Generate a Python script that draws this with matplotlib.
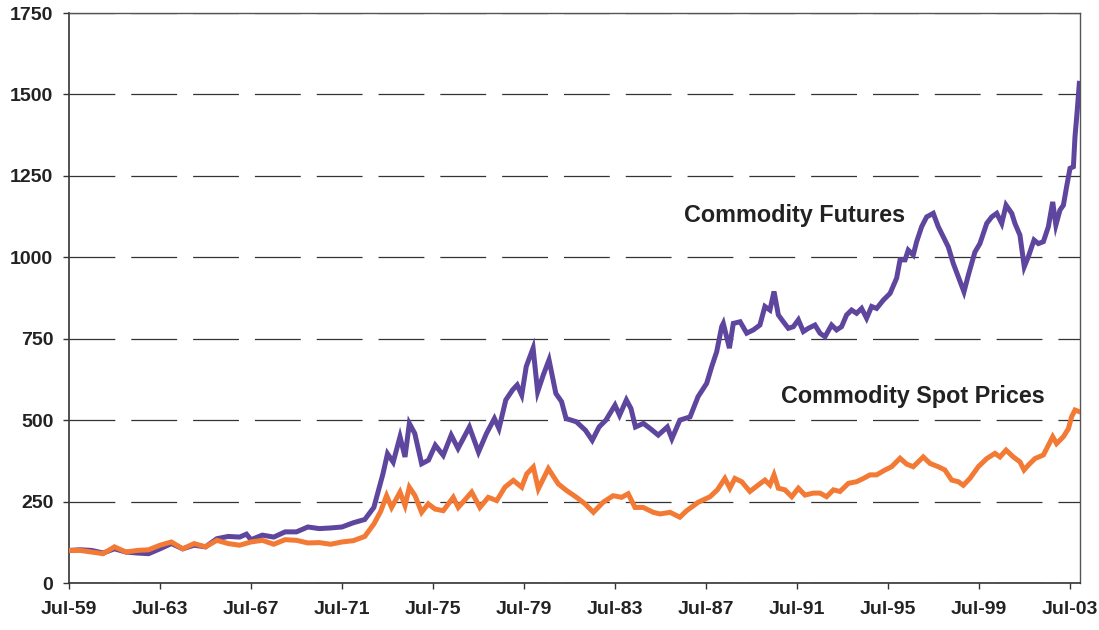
import matplotlib
matplotlib.use("Agg")
import matplotlib.pyplot as plt

plt.rcParams['font.family'] = ['Liberation Sans', 'DejaVu Sans']
plt.rcParams['lines.scale_dashes'] = False

# Commodity Futures (time in fractional years, index value)
fut_t = [1959.5, 1960.0, 1960.5, 1961.0, 1961.5, 1962.0, 1962.5, 1963.0, 1963.5, 1964.0,
         1964.5, 1965.0, 1965.5, 1966.0, 1966.5, 1967.0, 1967.3, 1967.5, 1968.0, 1968.5,
         1969.0, 1969.5, 1970.0, 1970.5, 1971.0, 1971.5, 1972.0, 1972.5, 1972.9, 1973.3,
         1973.5, 1973.75, 1974.05, 1974.27, 1974.46, 1974.7, 1975.0, 1975.3, 1975.6, 1975.95,
         1976.3, 1976.6, 1977.1, 1977.5, 1977.85, 1978.2, 1978.4, 1978.7, 1979.0, 1979.2,
         1979.4, 1979.6, 1979.9, 1980.1, 1980.35, 1980.6, 1980.9, 1981.15, 1981.35, 1981.8,
         1982.2, 1982.5, 1982.8, 1983.1, 1983.5, 1983.7, 1984.0, 1984.2, 1984.4, 1984.75,
         1985.05, 1985.4, 1985.8, 1986.0, 1986.35, 1986.8, 1987.15, 1987.53, 1987.75, 1987.97,
         1988.19, 1988.26, 1988.53, 1988.7, 1989.0, 1989.29, 1989.58, 1989.87, 1990.09, 1990.31,
         1990.49, 1990.68, 1990.9, 1991.12, 1991.34, 1991.56, 1991.78, 1992.0, 1992.29, 1992.51,
         1992.73, 1993.02, 1993.24, 1993.46, 1993.68, 1993.9, 1994.12, 1994.34, 1994.56, 1994.78,
         1995.0, 1995.3, 1995.59, 1995.88, 1996.03, 1996.25, 1996.39, 1996.61, 1996.76, 1996.98,
         1997.2, 1997.49, 1997.71, 1997.93, 1998.15, 1998.37, 1998.59, 1998.84, 1999.03, 1999.32,
         1999.54, 1999.84, 2000.06, 2000.28, 2000.5, 2000.69, 2000.94, 2001.08, 2001.3, 2001.49,
         2001.67, 2001.92, 2002.11, 2002.33, 2002.55, 2002.74, 2002.88, 2003.06, 2003.21, 2003.35,
         2003.5, 2003.65, 2003.72, 2003.82, 2003.91]
fut_v = [100, 102, 100, 92, 105, 95, 92, 90, 105, 121,
         105, 116, 111, 136, 143, 141, 150, 133, 147, 141,
         157, 157, 172, 167, 169, 172, 185, 195, 232, 335,
         397, 371, 449, 387, 490, 459, 366, 377, 423, 392,
         454, 413, 479, 402, 459, 505, 474, 562, 593, 608,
         577, 665, 721, 587, 639, 685, 582, 557, 505, 495,
         469, 438, 479, 500, 546, 515, 562, 536, 479, 490,
         474, 454, 479, 443, 500, 510, 572, 613, 664, 710,
         787, 797, 721, 797, 802, 767, 777, 792, 849, 838,
         895, 823, 802, 782, 787, 808, 772, 782, 792, 767,
         756, 792, 777, 787, 823, 838, 828, 843, 813, 849,
         843, 869, 889, 936, 992, 992, 1022, 1007, 1048, 1094,
         1124, 1135, 1094, 1063, 1032, 981, 940, 894, 945, 1016,
         1042, 1104, 1124, 1135, 1104, 1160, 1135, 1104, 1068, 971,
         1002, 1053, 1042, 1048, 1094, 1170, 1099, 1145, 1160, 1216,
         1273, 1278, 1370, 1452, 1534]

# Commodity Spot Prices
spot_t = [1959.5, 1960.0, 1960.5, 1961.0, 1961.5, 1962.0, 1962.5, 1963.0, 1963.5, 1964.0,
          1964.5, 1965.0, 1965.5, 1966.0, 1966.5, 1967.0, 1967.5, 1968.0, 1968.5, 1969.0,
          1969.5, 1970.0, 1970.5, 1971.0, 1971.5, 1972.0, 1972.5, 1972.9, 1973.2, 1973.46,
          1973.68, 1974.05, 1974.27, 1974.46, 1974.71, 1975.0, 1975.29, 1975.59, 1975.95, 1976.39,
          1976.61, 1977.2, 1977.56, 1977.93, 1978.3, 1978.66, 1979.03, 1979.4, 1979.62, 1979.91,
          1980.13, 1980.57, 1981.01, 1981.37, 1981.81, 1982.18, 1982.55, 1982.98, 1983.42, 1983.79,
          1984.08, 1984.38, 1984.74, 1985.18, 1985.48, 1985.92, 1986.35, 1986.65, 1987.16, 1987.68,
          1988.0, 1988.33, 1988.55, 1988.77, 1989.07, 1989.43, 1989.8, 1990.09, 1990.31, 1990.49,
          1990.68, 1990.97, 1991.27, 1991.56, 1991.85, 1992.22, 1992.51, 1992.8, 1993.1, 1993.39,
          1993.76, 1994.12, 1994.42, 1994.71, 1995.0, 1995.37, 1995.66, 1996.03, 1996.32, 1996.61,
          1997.05, 1997.35, 1997.71, 1998.0, 1998.3, 1998.59, 1998.81, 1999.1, 1999.47, 1999.84,
          2000.2, 2000.42, 2000.69, 2001.01, 2001.3, 2001.48, 2001.67, 2001.96, 2002.33, 2002.55,
          2002.74, 2002.91, 2003.21, 2003.43, 2003.57, 2003.72, 2003.91]
spot_v = [100, 100, 95, 90, 111, 95, 100, 102, 116, 126,
          105, 121, 111, 131, 121, 116, 126, 131, 119, 133,
          131, 123, 124, 119, 126, 130, 143, 181, 220, 268,
          232, 279, 238, 294, 268, 217, 243, 227, 222, 263,
          232, 279, 232, 263, 253, 294, 315, 294, 335, 356,
          289, 351, 304, 284, 263, 243, 217, 248, 268, 263,
          274, 232, 232, 217, 212, 217, 202, 222, 248, 265,
          286, 321, 291, 321, 311, 281, 301, 316, 301, 332,
          291, 286, 265, 291, 270, 276, 276, 265, 286, 281,
          306, 311, 321, 332, 332, 347, 357, 383, 365, 357,
          387, 367, 357, 347, 316, 311, 300, 321, 357, 382,
          398, 387, 408, 387, 372, 347, 362, 382, 393, 423,
          449, 428, 449, 474, 510, 531, 526]

tick_pos = [1959.5, 1963.5, 1967.5, 1971.5, 1975.5, 1979.5, 1983.5, 1987.5, 1991.5, 1995.5, 1999.5, 2003.5]
tick_labels = ['Jul-59', 'Jul-63', 'Jul-67', 'Jul-71', 'Jul-75', 'Jul-79', 'Jul-83', 'Jul-87',
               'Jul-91', 'Jul-95', 'Jul-99', 'Jul-03']
y_ticks = [0, 250, 500, 750, 1000, 1250, 1500, 1750]

fig = plt.figure(figsize=(10.99, 6.30), dpi=100)
ax = fig.add_axes([69/1099, 1 - 583/630, (1080 - 69)/1099, (583 - 13)/630])

ax.plot(fut_t, fut_v, color='#5E469E', lw=3.6, solid_joinstyle='miter', zorder=3)
ax.plot(spot_t, spot_v, color='#F27A35', lw=3.6, solid_joinstyle='miter', zorder=4)

ax.set_xlim(1959.5, 2003.94)
ax.set_ylim(0, 1750)
ax.set_xticks(tick_pos)
ax.set_xticklabels(tick_labels)
ax.set_yticks(y_ticks)
ax.set_yticklabels([str(v) for v in y_ticks])

ax.yaxis.grid(True, color='#333333', lw=0.9, linestyle=(0, (33, 11.5)))
ax.set_axisbelow(True)

for s in ['left', 'bottom']:
    ax.spines[s].set_color('#333333')
    ax.spines[s].set_linewidth(1.2)
for s in ['top', 'right']:
    ax.spines[s].set_color('#555555')
    ax.spines[s].set_linewidth(1.0)

ax.tick_params(axis='both', direction='out', length=4.3, width=1.0, color='#333333',
               labelsize=14, labelcolor='#222222')
ax.tick_params(axis='y', pad=7)
ax.tick_params(axis='x', pad=9)
for lab in ax.get_xticklabels() + ax.get_yticklabels():
    lab.set_fontweight('bold')

ax.text(1986.53, 1128, 'Commodity Futures', fontsize=16.8, fontweight='bold',
        color='#222222', ha='left', va='center')
ax.text(1990.8, 573, 'Commodity Spot Prices', fontsize=16.8, fontweight='bold',
        color='#222222', ha='left', va='center')

fig.savefig('out.png', dpi=100)
